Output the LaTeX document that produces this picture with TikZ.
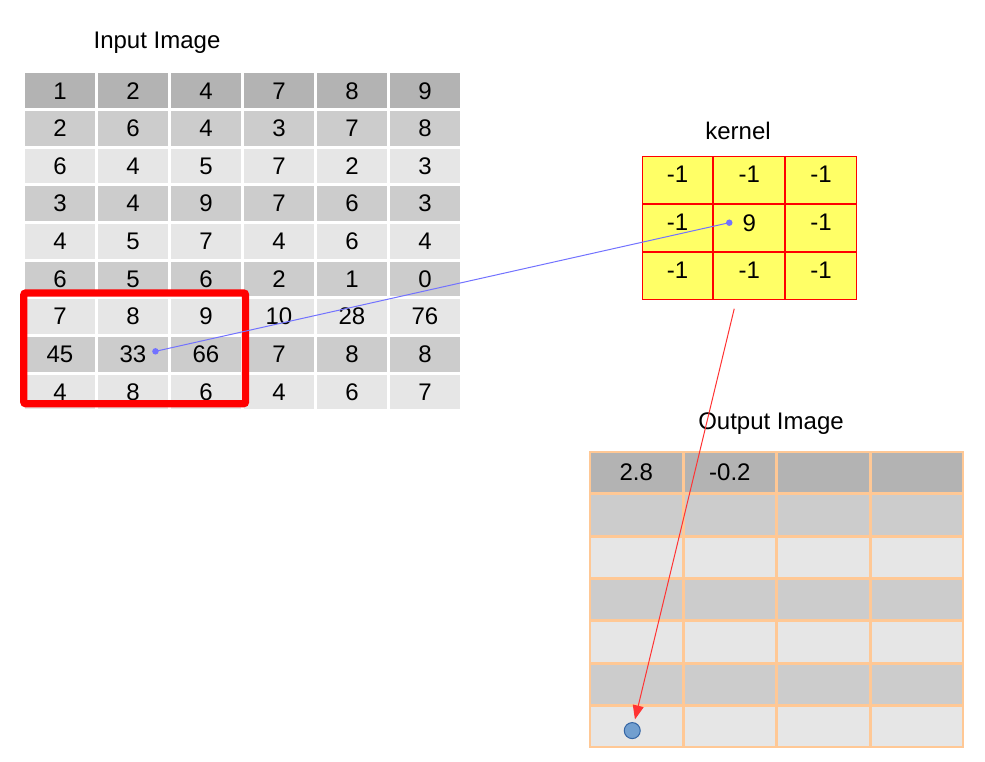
\documentclass[tikz,border=0pt]{standalone}
\usepackage{fontspec}
\setmainfont{Liberation Sans}
\usetikzlibrary{matrix,arrows.meta,positioning}

\definecolor{rowdark}{HTML}{B3B3B3}
\definecolor{rowmid}{HTML}{CCCCCC}
\definecolor{rowlight}{HTML}{E6E6E6}
\definecolor{kernyellow}{HTML}{FFFF66}
\definecolor{outline}{HTML}{FFC895}
\definecolor{linkblue}{HTML}{7272FF}
\definecolor{arrowred}{HTML}{FF3333}
\definecolor{resfill}{HTML}{729FCF}
\definecolor{resline}{HTML}{3465A4}

\tikzset{
    every node/.style={font=\fontsize{24}{28}\selectfont},
    incell/.style={draw=white,line width=1.5pt,inner sep=0pt,anchor=center,
        minimum width=71.5pt,minimum height=36.15pt},
    kcell/.style={draw=red,fill=kernyellow,line width=1pt,inner sep=0pt,anchor=center,
        minimum width=70.7pt,minimum height=47pt,text depth=10pt},
    outcell/.style={draw=outline,line width=1.5pt,inner sep=0pt,anchor=center,
        minimum width=92.1pt,minimum height=40.83pt},
    linkdot/.style={circle,fill=linkblue,inner sep=0pt,minimum size=6.5pt},
    resultdot/.style={circle,fill=resfill,draw=resline,line width=1pt,
        inner sep=0pt,minimum size=16pt},
}

\begin{document}
\begin{tikzpicture}[x=1pt,y=-1pt]
    \useasboundingbox (0,0) rectangle (985,762);

    % Input image
    \node[anchor=base] (intitle) at (157,48.5) {Input Image};
    \matrix[matrix of nodes,anchor=north west,inner sep=0pt,
        nodes={incell,fill=rowlight},
        row 1/.style={nodes={fill=rowdark}},
        row 2/.style={nodes={fill=rowmid}},
        row 4/.style={nodes={fill=rowmid}},
        row 6/.style={nodes={fill=rowmid}},
        row 8/.style={nodes={fill=rowmid}}] (in) at (23.25,71.75) {
        1  & 2  & 4  & 7  & 8  & 9  \\
        2  & 6  & 4  & 3  & 7  & 8  \\
        6  & 4  & 5  & 7  & 2  & 3  \\
        3  & 4  & 9  & 7  & 6  & 3  \\
        4  & 5  & 7  & 4  & 6  & 4  \\
        6  & 5  & 6  & 2  & 1  & 0  \\
        7  & 8  & 9  & 10 & 28 & 76 \\
        45 & 33 & 66 & 7  & 8  & 8  \\
        4  & 8  & 6  & 4  & 6  & 7  \\
    };

    % Window under the kernel
    \draw[red,line width=7.3pt,rounded corners=2pt] (23.8,293) rectangle (245.5,403.7);

    % Kernel
    \node[anchor=base] (ktitle) at (738,140) {kernel};
    \matrix[matrix of nodes,anchor=north west,inner sep=0pt,
        nodes={kcell}] (k) at (641.5,155.5) {
        -1 & -1 & -1 \\
        -1 & 9  & -1 \\
        -1 & -1 & -1 \\
    };

    % Output image
    \node[anchor=base] (outtitle) at (771,429) {Output Image};
    \matrix[matrix of nodes,anchor=north west,inner sep=0pt,
        nodes in empty cells,
        nodes={outcell,fill=rowlight},
        row 1/.style={nodes={fill=rowdark}},
        row 2/.style={nodes={fill=rowmid}},
        row 4/.style={nodes={fill=rowmid}},
        row 6/.style={nodes={fill=rowmid}}] (out) at (589.25,451.25) {
        2.8 & -0.2 & & \\
        & & & \\
        & & & \\
        & & & \\
        & & & \\
        & & & \\
        & & & \\
    };

    % Centre pixel to kernel centre
    \node[linkdot,xshift=22.5pt,yshift=3pt] (src) at (in-8-2) {};
    \node[linkdot,xshift=-20pt,yshift=5pt] (dst) at (k-2-2) {};
    \draw[linkblue,line width=1pt] (src.center) -- (dst.center);

    % Result goes to the output
    \coordinate[xshift=-15pt,yshift=-9pt] (kout) at (k-3-2.south);
    \node[resultdot,xshift=-4pt,yshift=-4pt] (res) at (out-7-1) {};
    \draw[arrowred,line width=1pt,shorten >=3pt,
        -{Triangle[length=14pt,width=11pt]}] (kout) -- (res);
\end{tikzpicture}
\end{document}
